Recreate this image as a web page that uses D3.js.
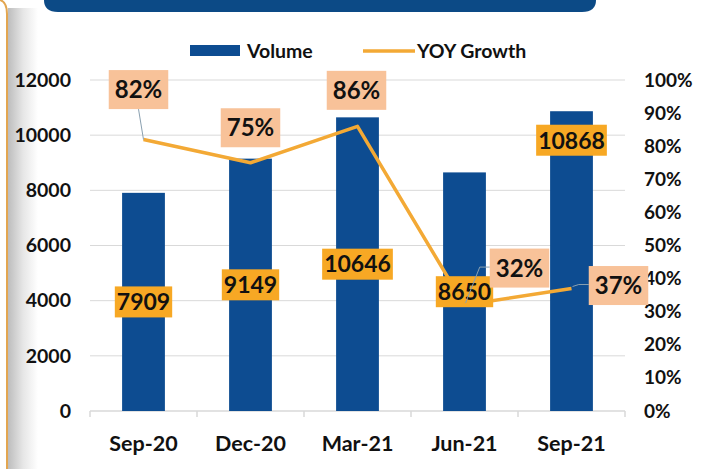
<!DOCTYPE html>
<html>
<head>
<meta charset="utf-8">
<script src="https://cdn.jsdelivr.net/npm/d3@7/dist/d3.min.js"></script>
<style>
  html, body { margin: 0; padding: 0; background: #ffffff; }
  svg { display: block; font-family: Lato, "Open Sans", sans-serif; font-weight: bold; }
</style>
</head>
<body>
<svg id="chart" width="707" height="469"></svg>
<script>
// ---- data ----
const categories = ["Sep-20", "Dec-20", "Mar-21", "Jun-21", "Sep-21"];
const volume = [7909, 9149, 10646, 8650, 10868];
const yoyGrowth = [0.82, 0.75, 0.86, 0.32, 0.37];
const leftTicks = [0, 2000, 4000, 6000, 8000, 10000, 12000];
const rightTicks = [0, 0.1, 0.2, 0.3, 0.4, 0.5, 0.6, 0.7, 0.8, 0.9, 1.0];
const seriesNames = ["Volume", "YOY Growth"];

// ---- layout (label placement, not data) ----
const volLabelMode = ["center", "center", "center", "center", "insideEnd"];
const pctOffsets = [[-5, -50], [0, -35], [-1, -36], [55, -37], [47, -3]];
const pctLeader = ["bottom", "none", "none", "left", "left"];

const colors = {
  bar: "#0D4C91", line: "#F3A935", pctBox: "#F8C299", volBox: "#F7A824",
  grid: "#D9D9D9", banner: "#0C4A86", text: "#111111"
};

const svg = d3.select("#chart");
const defs = svg.append("defs");

// left frame decoration
const grad = defs.append("linearGradient").attr("id", "shadow").attr("x1", "0").attr("x2", "1");
grad.append("stop").attr("offset", "0").attr("stop-color", "#bdbdbd");
grad.append("stop").attr("offset", "0.5").attr("stop-color", "#e6e6e6");
grad.append("stop").attr("offset", "1").attr("stop-color", "#ffffff");
svg.append("rect").attr("x", 8).attr("y", 8).attr("width", 30).attr("height", 461).attr("fill", "url(#shadow)");
svg.append("path").attr("d", "M7,469 L7,14 Q7,2 0,0").attr("fill", "none")
  .attr("stroke", "#E3A650").attr("stroke-width", 2);

// banner
svg.append("path")
  .attr("d", "M44,-2 L596,-2 L596,0 Q596,12 582,12 L58,12 Q44,12 44,0 Z")
  .attr("fill", colors.banner);

const x = d3.scaleBand().domain(categories).range([90, 625]).paddingInner(0.6).paddingOuter(0.3);
const yL = d3.scaleLinear().domain([0, 12000]).range([411, 80]);
const yR = d3.scaleLinear().domain([0, 1]).range([411, 80]);

// gridlines
svg.append("g").selectAll("line").data(leftTicks.filter(d => d > 0)).join("line")
  .attr("x1", 90).attr("x2", 625)
  .attr("y1", d => yL(d)).attr("y2", d => yL(d))
  .attr("stroke", colors.grid).attr("stroke-width", 1);

// left axis
const gL = svg.append("g").attr("transform", "translate(71,0)")
  .call(d3.axisLeft(yL).tickValues(leftTicks).tickFormat(d3.format("d")).tickSize(0).tickPadding(0));
gL.select(".domain").remove();
gL.selectAll("text").attr("font-size", 19.5).attr("font-family", "Lato").attr("font-weight", "bold").attr("fill", colors.text);

// right axis
const gR = svg.append("g").attr("transform", "translate(644,0)")
  .call(d3.axisRight(yR).tickValues(rightTicks).tickFormat(d3.format(".0%")).tickSize(0).tickPadding(0));
gR.select(".domain").remove();
gR.selectAll("text").attr("font-size", 19).attr("font-family", "Lato").attr("font-weight", "bold").attr("fill", colors.text);

// x axis
const gX = svg.append("g").attr("transform", "translate(0,411)");
gX.append("line").attr("x1", 90).attr("x2", 625).attr("stroke", colors.grid).attr("stroke-width", 1.5);
const step = x.step();
gX.selectAll("line.tk").data(d3.range(categories.length + 1)).join("line").attr("class", "tk")
  .attr("x1", i => 90 + i * step).attr("x2", i => 90 + i * step)
  .attr("y1", 0).attr("y2", 6).attr("stroke", colors.grid).attr("stroke-width", 1.5);
gX.selectAll("text").data(categories).join("text")
  .attr("x", d => x(d) + x.bandwidth() / 2).attr("y", 40)
  .attr("text-anchor", "middle").attr("font-size", 21.5).attr("fill", colors.text).text(d => d);

// bars
svg.append("g").selectAll("rect").data(volume).join("rect")
  .attr("x", (d, i) => x(categories[i])).attr("width", x.bandwidth())
  .attr("y", d => yL(d)).attr("height", d => yL(0) - yL(d))
  .attr("fill", colors.bar);

// line
const cx = i => x(categories[i]) + x.bandwidth() / 2;
const line = d3.line().x((d, i) => cx(i)).y(d => yR(d));
svg.append("path").datum(yoyGrowth).attr("d", line)
  .attr("fill", "none").attr("stroke", colors.line).attr("stroke-width", 3.5).attr("stroke-linejoin", "round");

// volume labels
const volG = svg.append("g");
volume.forEach((v, i) => {
  const top = yL(v);
  const cy = volLabelMode[i] === "center" ? (top + yL(0)) / 2 : top + 29;
  const g = volG.append("g");
  const t = g.append("text").attr("x", cx(i)).attr("y", cy).attr("dy", "0.36em")
    .attr("text-anchor", "middle").attr("font-size", 23).attr("fill", colors.text).text(d3.format("d")(v));
  const bb = t.node().getBBox();
  g.insert("rect", "text").attr("x", bb.x - 2).attr("y", cy - 15.5)
    .attr("width", bb.width + 4).attr("height", 31).attr("fill", colors.volBox);
});

// pct labels + leaders
const pctG = svg.append("g");
yoyGrowth.forEach((p, i) => {
  const px = cx(i), py = yR(p);
  const bx = px + pctOffsets[i][0], by = py + pctOffsets[i][1];
  const g = pctG.append("g");
  const t = g.append("text").attr("x", bx).attr("y", by).attr("dy", "0.36em")
    .attr("text-anchor", "middle").attr("font-size", 24).attr("fill", colors.text).text(d3.format(".0%")(p));
  const bb = t.node().getBBox();
  const w = bb.width + 12, h = 39;
  g.insert("rect", "text").attr("x", bx - w / 2).attr("y", by - h / 2)
    .attr("width", w).attr("height", h).attr("fill", colors.pctBox);
  let pts = null;
  if (pctLeader[i] === "bottom") pts = [[bx, by + h / 2], [px, py]];
  if (pctLeader[i] === "left") pts = [[bx - w / 2, by - 1], [bx - w / 2 - 10, by - 1], [px + 1, py - 2]];
  if (pts) {
    pctG.insert("path", "g").attr("d", d3.line()(pts)).attr("fill", "none")
      .attr("stroke", "#8aa0b0").attr("stroke-width", 1);
  }
});

// legend
const lg = svg.append("g");
lg.append("rect").attr("x", 190).attr("y", 45).attr("width", 50).attr("height", 11).attr("fill", colors.bar);
lg.append("text").attr("x", 247).attr("y", 50.5).attr("dy", "0.36em").attr("font-size", 19.5).attr("fill", colors.text).text(seriesNames[0]);
lg.append("line").attr("x1", 363).attr("x2", 415).attr("y1", 51).attr("y2", 51).attr("stroke", colors.line).attr("stroke-width", 3.5);
lg.append("text").attr("x", 417).attr("y", 50.5).attr("dy", "0.36em").attr("font-size", 19.5).attr("fill", colors.text).text(seriesNames[1]);
</script>
</body>
</html>
